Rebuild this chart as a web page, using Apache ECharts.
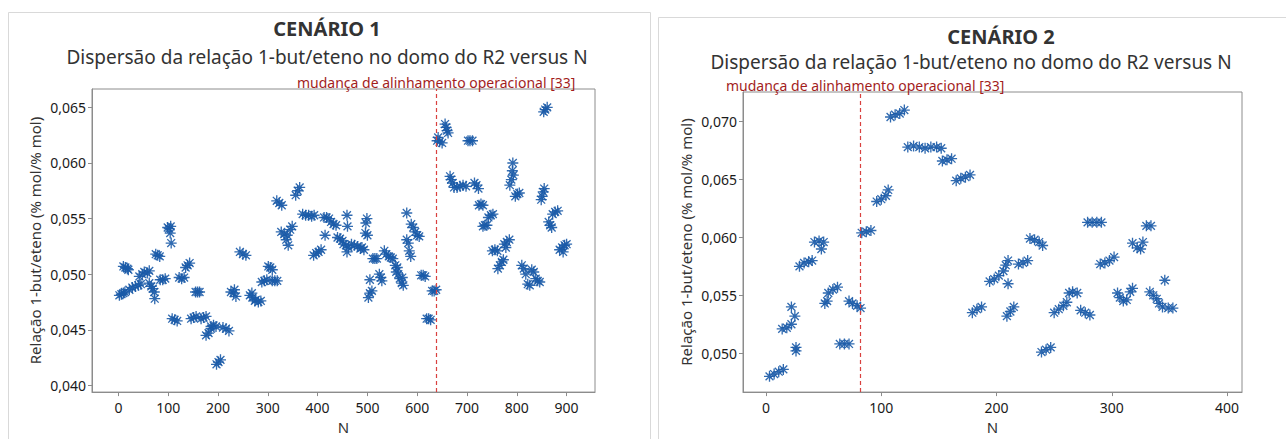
<!DOCTYPE html>
<html>
<head>
<meta charset="utf-8">
<script src="https://cdn.jsdelivr.net/npm/echarts@6/dist/echarts.min.js"></script>
<style>
html,body{margin:0;padding:0;background:#fff;}
#chart{width:1286px;height:439px;}
</style>
</head>
<body>
<div id="chart"></div>
<script>
// ---------- DATA ----------
const titles = ['CENÁRIO 1', 'CENÁRIO 2'];
const subtitle = 'Dispersão da relação 1-but/eteno no domo do R2 versus N';
const annotation = 'mudança de alinhamento operacional [33]';
const yName = 'Relação 1-but/eteno (% mol/% mol)';
const xName = 'N';

const xTicks1 = [0, 100, 200, 300, 400, 500, 600, 700, 800, 900];
const yTicks1 = [0.040, 0.045, 0.050, 0.055, 0.060, 0.065];
const xTicks2 = [0, 100, 200, 300, 400];
const yTicks2 = [0.050, 0.055, 0.060, 0.065, 0.070];

const changeN1 = 638;
const changeN2 = 82;

// Cenário 1 : [N, relação]
const cen1Points = [
 [2,0.0481],[6,0.0482],[10,0.0483],[13,0.0484],
 [10,0.0507],[14,0.0506],[18,0.0505],[20,0.0504],
 [22,0.0486],[28,0.0488],[34,0.0489],[40,0.0490],[45,0.0491],
 [42,0.0498],[48,0.0500],[52,0.0502],[58,0.0501],[62,0.0503],
 [62,0.0492],[66,0.0489],[69,0.0487],[72,0.0484],[73,0.0478],
 [75,0.0518],[79,0.0517],[83,0.0516],
 [84,0.0495],[89,0.0495],[94,0.0496],
 [99,0.0542],[102,0.0541],[105,0.0543],[104,0.0537],[106,0.0528],
 [108,0.0460],[113,0.0459],[118,0.0458],
 [122,0.0497],[127,0.0496],[132,0.0497],
 [135,0.0506],[139,0.0508],[143,0.0510],
 [146,0.0460],[151,0.0461],[156,0.0462],
 [155,0.0484],[159,0.0484],[163,0.0484],
 [166,0.0460],[171,0.0461],[176,0.0462],
 [176,0.0445],[181,0.0447],[186,0.0451],
 [186,0.0453],[191,0.0454],[196,0.0453],
 [197,0.0419],[201,0.0421],[205,0.0423],
 [210,0.0452],[216,0.0451],[222,0.0449],
 [226,0.0484],[231,0.0483],[236,0.0480],[233,0.0486],
 [244,0.0520],[250,0.0518],[256,0.0517],
 [264,0.0481],[269,0.0479],[274,0.0476],[268,0.0483],
 [276,0.0477],[281,0.0475],[286,0.0476],
 [288,0.0493],[293,0.0494],[298,0.0495],
 [301,0.0507],[305,0.0506],[309,0.0504],
 [309,0.0494],[314,0.0494],[319,0.0494],
 [318,0.0566],[323,0.0564],[328,0.0562],
 [327,0.0538],[333,0.0536],[339,0.0535],[345,0.0540],[349,0.0543],[341,0.0526],[337,0.0531],
 [356,0.0571],[360,0.0575],[364,0.0578],
 [370,0.0554],[376,0.0553],[382,0.0553],[388,0.0552],[393,0.0553],
 [392,0.0517],[397,0.0519],[402,0.0520],[407,0.0522],
 [413,0.0551],[418,0.0551],[423,0.0550],
 [427,0.0547],[432,0.0545],[437,0.0544],
 [415,0.0535],
 [459,0.0553],[460,0.0543],
 [440,0.0533],[445,0.0532],[450,0.0530],
 [452,0.0527],[457,0.0526],[462,0.0524],[459,0.0520],
 [468,0.0527],[474,0.0526],[480,0.0525],[486,0.0523],
 [499,0.0550],[497,0.0546],
 [496,0.0537],[500,0.0535],
 [489,0.0524],[493,0.0522],[505,0.0495],[509,0.0485],[505,0.0483],[502,0.0479],
 [511,0.0514],[515,0.0514],[519,0.0514],
 [524,0.0500],[527,0.0497],[529,0.0494],
 [534,0.0521],[538,0.0518],[543,0.0516],[547,0.0515],[551,0.0514],
 [556,0.0508],[560,0.0506],[558,0.0502],[562,0.0500],
 [565,0.0496],[569,0.0492],[572,0.0490],[570,0.0497],
 [579,0.0555],
 [579,0.0531],[582,0.0528],[584,0.0521],[587,0.0516],
 [588,0.0545],[592,0.0542],[596,0.0538],[600,0.0535],[604,0.0534],
 [608,0.0499],[612,0.0499],[616,0.0498],
 [619,0.0460],[623,0.0460],[627,0.0459],
 [630,0.0485],[634,0.0485],[638,0.0486],
 [640,0.0620],[645,0.0619],[650,0.0618],[642,0.0623],
 [656,0.0635],[658,0.0632],[660,0.0629],[662,0.0627],
 [702,0.0620],[706,0.0620],[711,0.0620],
 [666,0.0588],[668,0.0585],[671,0.0582],
 [674,0.0578],[680,0.0578],[686,0.0579],[692,0.0580],[698,0.0579],
 [715,0.0582],[719,0.0580],[723,0.0577],
 [724,0.0562],[728,0.0563],[732,0.0562],
 [743,0.0551],[748,0.0553],[752,0.0554],
 [732,0.0543],[736,0.0544],[740,0.0544],
 [751,0.0521],[756,0.0522],[761,0.0521],
 [775,0.0527],[780,0.0529],[785,0.0531],[778,0.0524],
 [762,0.0505],[766,0.0508],[770,0.0511],[773,0.0513],
 [792,0.0600],[791,0.0593],[793,0.0589],[789,0.0585],[786,0.0580],
 [797,0.0570],[801,0.0572],[805,0.0573],
 [810,0.0508],[814,0.0505],[818,0.0500],[822,0.0491],[826,0.0490],
 [830,0.0504],[834,0.0502],[838,0.0496],[842,0.0494],[846,0.0493],
 [854,0.0646],[857,0.0648],[861,0.0650],
 [849,0.0567],[851,0.0570],[853,0.0574],[855,0.0577],
 [872,0.0554],[877,0.0556],[882,0.0557],
 [864,0.0547],[867,0.0544],[870,0.0542],
 [886,0.0522],[891,0.0524],[896,0.0526],[900,0.0527],[893,0.0520]
];

// Cenário 2 : [N, relação]
const cen2Points = [
 [3,0.0480],[7,0.0482],[11,0.0484],[15,0.0486],
 [14,0.0521],[18,0.0522],[22,0.0525],
 [22,0.0540],
 [25,0.0532],
 [26,0.0505],[26,0.0502],
 [29,0.0575],[33,0.0578],[37,0.0579],[40,0.0580],
 [42,0.0596],[46,0.0597],[50,0.0596],
 [48,0.0590],
 [51,0.0543],[53,0.0545],
 [54,0.0552],[58,0.0555],[62,0.0557],
 [64,0.0508],[68,0.0508],[72,0.0508],
 [72,0.0545],[75,0.0543],[79,0.0541],[82,0.0539],
 [83,0.0604],[87,0.0605],[91,0.0606],
 [96,0.0631],[100,0.0633],[104,0.0636],[106,0.0641],
 [108,0.0704],[112,0.0706],[116,0.0707],[120,0.0710],
 [123,0.0678],[128,0.0679],[133,0.0678],[138,0.0677],[143,0.0678],[148,0.0678],[152,0.0677],
 [153,0.0666],[157,0.0667],[161,0.0668],
 [165,0.0649],[169,0.0651],[173,0.0652],[177,0.0654],
 [179,0.0535],[183,0.0538],[187,0.0540],
 [194,0.0562],[198,0.0564],[202,0.0567],[206,0.0571],[208,0.0576],[210,0.0580],
 [210,0.0560],
 [209,0.0532],[212,0.0536],[215,0.0540],
 [219,0.0577],[223,0.0578],[227,0.0580],
 [229,0.0599],[233,0.0598],[237,0.0596],[240,0.0593],
 [239,0.0501],[243,0.0503],[247,0.0505],
 [250,0.0535],[254,0.0538],[258,0.0541],[261,0.0544],
 [263,0.0552],[266,0.0553],[270,0.0552],
 [273,0.0537],[277,0.0535],[281,0.0533],
 [279,0.0613],[283,0.0613],[287,0.0613],[291,0.0613],
 [290,0.0577],[294,0.0578],[298,0.0580],[302,0.0583],
 [305,0.0552],[307,0.0548],[310,0.0545],[313,0.0546],[316,0.0553],[318,0.0556],
 [318,0.0595],[322,0.0591],[325,0.0590],[327,0.0596],
 [330,0.0610],[334,0.0610],
 [333,0.0553],[336,0.0550],[339,0.0547],[341,0.0543],[344,0.0540],[346,0.0563],[349,0.0539],[353,0.0539]
];

// ---------- STYLE ----------
const FONT = '"Noto Sans", "Open Sans", sans-serif';
const BLUE = '#1a5aa7';
const RED = '#a31d1d';
const ASTERISK = 'path://M0 8.8L20 8.8L20 11.2L0 11.2Z M8.8 0L11.2 0L11.2 20L8.8 20Z M2.0 3.7L3.7 2.0L18.0 16.3L16.3 18.0Z M16.3 2.0L18.0 3.7L3.7 18.0L2.0 16.3Z';

const fmtY = v => Number(v).toFixed(3).replace('.', ',');

function xAxisCfg(grid, min, max, ticks) {
  return {
    type: 'value', gridIndex: grid, min: min, max: max,
    name: xName, nameLocation: 'middle', nameGap: 25,
    nameTextStyle: { fontFamily: FONT, fontSize: 15, color: '#333' },
    axisLine: { show: true, onZero: false, lineStyle: { color: '#8c8c8c' } },
    axisTick: { show: true, length: 4, customValues: ticks, lineStyle: { color: '#8c8c8c' } },
    axisLabel: { customValues: ticks, fontFamily: FONT, fontSize: 14, color: '#1a1a1a', margin: 8 },
    splitLine: { show: false }
  };
}
function yAxisCfg(grid, min, max, ticks) {
  return {
    type: 'value', gridIndex: grid, min: min, max: max,
    name: yName, nameLocation: 'middle', nameGap: 50,
    nameTextStyle: { fontFamily: FONT, fontSize: 15, color: '#333' },
    axisLine: { show: true, onZero: false, lineStyle: { color: '#8c8c8c' } },
    axisTick: { show: true, length: 4, customValues: ticks, lineStyle: { color: '#8c8c8c' } },
    axisLabel: { customValues: ticks, formatter: fmtY, fontFamily: FONT, fontSize: 14, color: '#1a1a1a', margin: 6 },
    splitLine: { show: false }
  };
}
function scatter(idx, pts, changeN) {
  return {
    type: 'scatter', xAxisIndex: idx, yAxisIndex: idx,
    data: pts, symbol: ASTERISK, symbolSize: 11,
    itemStyle: { color: BLUE, opacity: 0.9 },
    animation: false, silent: true,
    markLine: {
      silent: true, symbol: 'none', animation: false,
      label: { show: false },
      lineStyle: { color: '#d9413f', type: [4, 3], width: 1.2 },
      data: [{ xAxis: changeN }]
    }
  };
}
function txt(text, x, y, size, weight, color, align) {
  return {
    type: 'text', x: x, y: y, silent: true,
    style: { text: text, fontFamily: FONT, fontSize: size, fontWeight: weight, fill: color,
             align: align || 'center', verticalAlign: 'middle' }
  };
}

const chart = echarts.init(document.getElementById('chart'), null, { renderer: 'svg' });
chart.setOption({
  animation: false,
  backgroundColor: '#fff',
  grid: [
    { left: 92, top: 89, width: 503, height: 314, show: true, borderColor: '#8c8c8c', borderWidth: 1 },
    { left: 743, top: 92, width: 499, height: 311, show: true, borderColor: '#8c8c8c', borderWidth: 1 }
  ],
  xAxis: [ xAxisCfg(0, -53, 957, xTicks1), xAxisCfg(1, -20, 413, xTicks2) ],
  yAxis: [ yAxisCfg(0, 0.0394, 0.06665, yTicks1), yAxisCfg(1, 0.04664, 0.07256, yTicks2) ],
  series: [ scatter(0, cen1Points, changeN1), scatter(1, cen2Points, changeN2) ],
  graphic: [
    { type: 'rect', silent: true, shape: { x: 8.5, y: 12.5, width: 642, height: 440 },
      style: { fill: 'none', stroke: '#d9d9d9', lineWidth: 1 } },
    { type: 'rect', silent: true, shape: { x: 658.5, y: 17.5, width: 640, height: 440 },
      style: { fill: 'none', stroke: '#d9d9d9', lineWidth: 1 } },
    txt(titles[0], 327, 28, 20, 'bold', '#333'),
    txt(subtitle, 327, 57, 19, 'normal', '#333'),
    txt(annotation, 297, 82, 14, 'normal', RED, 'left'),
    txt(titles[1], 1001, 36, 20, 'bold', '#333'),
    txt(subtitle, 971, 62, 19, 'normal', '#333'),
    txt(annotation, 726, 85, 14, 'normal', RED, 'left')
  ]
});
</script>
</body>
</html>
